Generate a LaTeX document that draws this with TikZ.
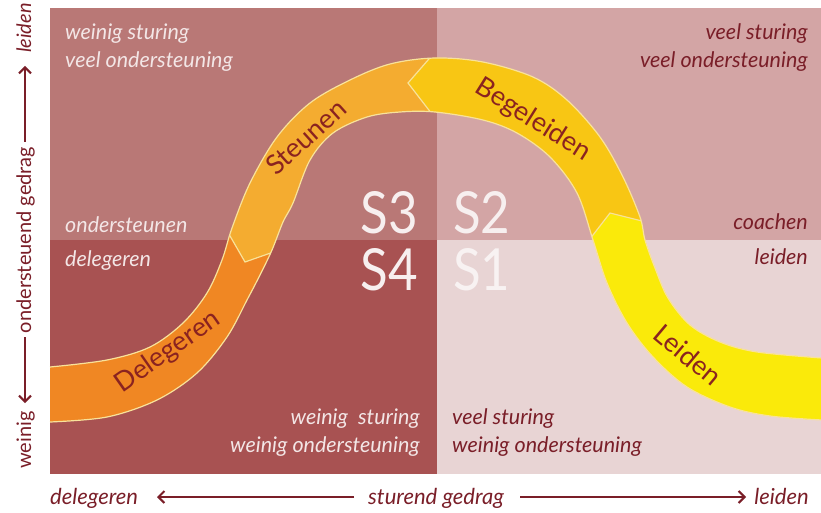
\documentclass[tikz,border=0pt]{standalone}
\usepackage{fontspec}
\setmainfont{Lato}
\usetikzlibrary{arrows.meta}
\definecolor{qtl}{HTML}{B97876}
\definecolor{qtr}{HTML}{D3A5A5}
\definecolor{qbl}{HTML}{A85252}
\definecolor{qbr}{HTML}{E8D4D4}
\definecolor{cdele}{HTML}{F08723}
\definecolor{csteu}{HTML}{F4AC30}
\definecolor{cbege}{HTML}{F8C614}
\definecolor{cleid}{HTML}{FAEA0A}
\definecolor{pale}{HTML}{F8E29A}
\definecolor{darkred}{HTML}{7A1E28}
\definecolor{bandtxt}{HTML}{8A2320}
\definecolor{lighttxt}{HTML}{F3E6E6}
\definecolor{stxt}{HTML}{F7EFEF}
\tikzset{
  lt/.style={font=\itshape\fontsize{21.5}{24}\selectfont, text=lighttxt, inner sep=0pt},
  dt/.style={font=\itshape\fontsize{21.5}{24}\selectfont, text=darkred, inner sep=0pt},
  bandlbl/.style={font=\fontsize{27}{30}\selectfont, text=bandtxt, inner sep=0pt},
  slbl/.style={font=\fontsize{58}{60}\selectfont, text=stxt, inner sep=0pt, xscale=0.88},
  axt/.style={font=\itshape\fontsize{22}{24}\selectfont, text=darkred, inner sep=0pt},
  ayt/.style={font=\itshape\fontsize{20}{22}\selectfont, text=darkred, inner sep=0pt},
  axu/.style={font=\fontsize{20}{22}\selectfont, text=darkred, inner sep=0pt},
  axarrow/.style={draw=darkred, line width=2pt, -{Straight Barb[length=6pt,width=12pt,line width=2pt]}},
  edgeline/.style={draw=pale, line width=1.2pt},
  bandsmooth/.style={smooth, tension=0.55},
}
\begin{document}
\begin{tikzpicture}[x=1pt,y=-1pt]
\useasboundingbox (0,0) rectangle (821,513);
\fill[white] (0,0) rectangle (821,513);
% quadrants
\fill[qtl] (50,8) rectangle (437,240);
\fill[qtr] (437,8) rectangle (821,240);
\fill[qbl] (50,240) rectangle (437,474);
\fill[qbr] (437,240) rectangle (821,474);
% band
\begin{scope}
  \clip plot[bandsmooth] coordinates {(50,367) (107,360) (150,347) (183,323) (207,293) (222,260) (232,228) (250,183) (277,137) (310,103) (350,80) (390,64) (435,58) (483,62) (533,77) (567,100) (600,137) (623,177) (640,217) (645,240) (655,268) (668,298) (690,325) (720,342) (757,352) (822,358)}
    -- plot[bandsmooth] coordinates {(822,420) (770,416) (730,407) (687,387) (653,357) (627,323) (607,283) (593,240) (577,193) (550,157) (517,133) (483,120) (435,112) (400,112) (367,117) (333,133) (310,160) (293,203) (283,222) (272,250) (260,275) (247,300) (227,337) (197,373) (157,400) (107,417) (50,422)} -- cycle;
  \fill[cdele] (0,0) rectangle (821,513);
  \fill[csteu] (0,0) -- (0,215) -- (226,229) -- (245,262) -- (282,249) -- (330,265) -- (437,265) -- (437,0) -- cycle;
  \fill[cbege] (435,0) -- (435,52) -- (408,83) -- (435,118) -- (435,300) -- (830,300) -- (830,0) -- cycle;
  \fill[cleid] (560,255) -- (586,244) -- (610,213) -- (646,222) -- (680,210) -- (830,210) -- (830,480) -- (560,480) -- cycle;
  \draw[edgeline] (435,52) -- (408,83) -- (435,118);
  \draw[edgeline] (226,229) -- (245,262) -- (282,249);
  \draw[edgeline] (586,244) -- (610,213) -- (646,222);
\end{scope}
\draw[edgeline] plot[bandsmooth] coordinates {(50,367) (107,360) (150,347) (183,323) (207,293) (222,260) (232,228) (250,183) (277,137) (310,103) (350,80) (390,64) (435,58) (483,62) (533,77) (567,100) (600,137) (623,177) (640,217) (645,240) (655,268) (668,298) (690,325) (720,342) (757,352) (822,358)};
\draw[edgeline] plot[bandsmooth] coordinates {(822,420) (770,416) (730,407) (687,387) (653,357) (627,323) (607,283) (593,240) (577,193) (550,157) (517,133) (483,120) (435,112) (400,112) (367,117) (333,133) (310,160) (293,203) (283,222) (272,250) (260,275) (247,300) (227,337) (197,373) (157,400) (107,417) (50,422)};
% band labels
\node[bandlbl, rotate=35] (ldele) at (168,352) {Delegeren};
\node[bandlbl, rotate=42] (lsteu) at (306,137) {Steunen};
\node[bandlbl, rotate=-32] (lbege) at (533,120) {Begeleiden};
\node[bandlbl, rotate=-40] (lleid) at (688,355) {Leiden};
% S labels
\node[slbl, anchor=base east] (s3) at (418,233) {S3};
\node[slbl, anchor=base west] (s2) at (453,233) {S2};
\node[slbl, anchor=base east] (s4) at (418,290) {S4};
\node[slbl, anchor=base west, text=white!70!qbr] (s1) at (453,290) {S1};
% quadrant texts
\node[lt, anchor=base west] (tl1) at (65,40) {weinig sturing};
\node[lt, anchor=base west] (tl2) at (65,68) {veel ondersteuning};
\node[lt, anchor=base west] (tl3) at (65,232) {ondersteunen};
\node[lt, anchor=base west] (bl1) at (65,266) {delegeren};
\node[lt, anchor=base east] (bl2) at (420,424) {weinig\ \ sturing};
\node[lt, anchor=base east] (bl3) at (420,452) {weinig ondersteuning};
\node[dt, anchor=base east] (tr1) at (808,40) {veel sturing};
\node[dt, anchor=base east] (tr2) at (808,68) {veel ondersteuning};
\node[dt, anchor=base east] (tr3) at (808,229) {coachen};
\node[dt, anchor=base east] (br1) at (808,264) {leiden};
\node[dt, anchor=base west] (br2) at (452,424) {veel sturing};
\node[dt, anchor=base west] (br3) at (452,452) {weinig ondersteuning};
% bottom axis
\node[axt, anchor=base west] (xl) at (50,504) {delegeren};
\node[axt, anchor=base] (xm) at (436,504) {sturend gedrag};
\node[axt, anchor=base east] (xr) at (809,504) {leiden};
\coordinate (xa1) at (354,497);
\coordinate (xa2) at (157,497);
\coordinate (xb1) at (520,497);
\coordinate (xb2) at (746,497);
\draw[axarrow] (xa1) -- (xa2);
\draw[axarrow] (xb1) -- (xb2);
% left axis
\node[ayt, rotate=90, anchor=base] (yt) at (31,28) {leiden};
\node[axu, rotate=90, anchor=base] (ym) at (31,240) {ondersteuend gedrag};
\node[axu, rotate=90, anchor=base] (yb) at (31,440) {weinig};
\coordinate (ya1) at (25,142);
\coordinate (ya2) at (25,66);
\coordinate (yb1) at (25,337);
\coordinate (yb2) at (25,403);
\draw[axarrow] (ya1) -- (ya2);
\draw[axarrow] (yb1) -- (yb2);
\end{tikzpicture}
\end{document}
